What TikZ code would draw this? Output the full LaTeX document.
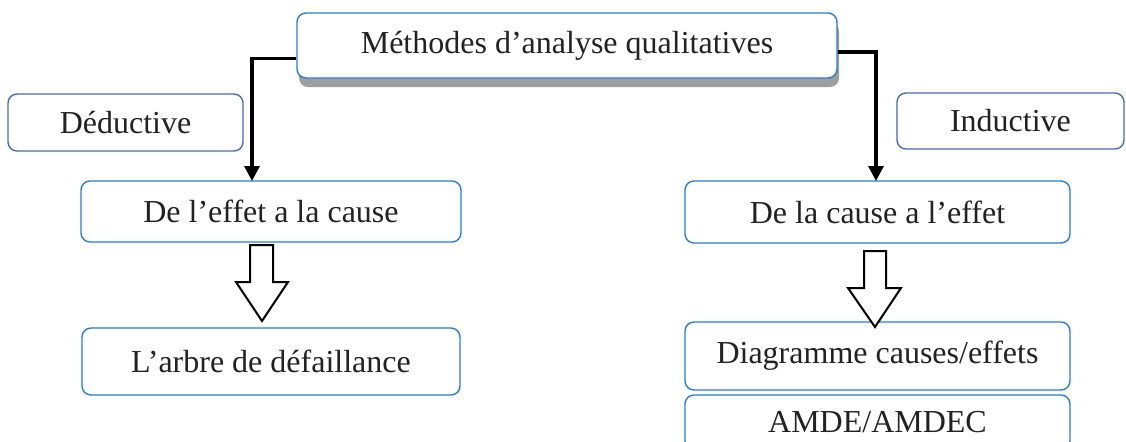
\documentclass[tikz,border=0pt]{standalone}
\usepackage{fontspec}
\setmainfont{Liberation Serif}
\usetikzlibrary{arrows.meta,shadows,calc}
\definecolor{boxblue}{RGB}{40,125,208}
\definecolor{slateblue}{RGB}{72,108,175}
\definecolor{shadowgray}{RGB}{158,158,158}
\definecolor{ink}{RGB}{34,34,34}
\tikzset{
  box/.style={draw=boxblue, line width=0.7pt, rounded corners=4.5pt, fill=white,
    inner sep=0pt, text=ink, font=\fontsize{16}{19}\selectfont},
  sidebox/.style={box, draw=slateblue},
  conn/.style={line width=1.7pt, -{Triangle[width=7.5pt,length=7.5pt]}},
  bigarrow/.style={draw=black, line width=1pt, fill=white, line join=miter},
}
\begin{document}
\begin{tikzpicture}[x=0.5pt, y=-0.5pt]
\useasboundingbox (0,0) rectangle (1126,441);
\clip (0,0) rectangle (1126,441);

% title box with its shadow
\node[box, drop shadow={shadow xshift=1pt, shadow yshift=-4.5pt, fill=shadowgray, opacity=1},
  minimum width=270pt, minimum height=32.5pt] (top) at (567,45.5) {Méthodes d’analyse qualitatives};

% the two approaches
\node[sidebox, minimum width=117.5pt, minimum height=28.5pt] (ded) at (125.5,122.5) {Déductive};
\node[sidebox, minimum width=113.5pt, minimum height=28pt] (ind) at (1010.5,121) {Inductive};

\node[box, minimum width=190pt, minimum height=30.5pt] (eff) at (271,211.5) {De l’effet a la cause};
\node[box, minimum width=192.5pt, minimum height=31pt] (cause) at (877.5,212) {De la cause a l’effet};

% resulting methods
\node[box, minimum width=189pt, minimum height=33.5pt] (arbre) at (271,361.5) {L’arbre de défaillance};
\node[box, minimum width=192.5pt, minimum height=34pt] (diag) at (877.5,356) {Diagramme causes/effets};
\node[box, minimum width=192.5pt, minimum height=27.5pt] (amde) at (877.5,422.5) {AMDE/AMDEC};

% connectors from the title
\coordinate (effin) at (252,181);
\coordinate (causein) at (876,181);
\draw[conn] ($(top.west)+(0,13)$) -| (effin);
\draw[conn] ($(top.east)+(0,6.5)$) -| (causein);

% hollow block arrows
\draw[bigarrow] (250,245) -- (273,245) -- (273,282) -- (288,282) -- (262,321)
  -- (236,282) -- (250,282) -- cycle;
\draw[bigarrow] (864,251) -- (886,251) -- (886,288) -- (901,288) -- (875,327)
  -- (848,288) -- (864,288) -- cycle;
\end{tikzpicture}
\end{document}
